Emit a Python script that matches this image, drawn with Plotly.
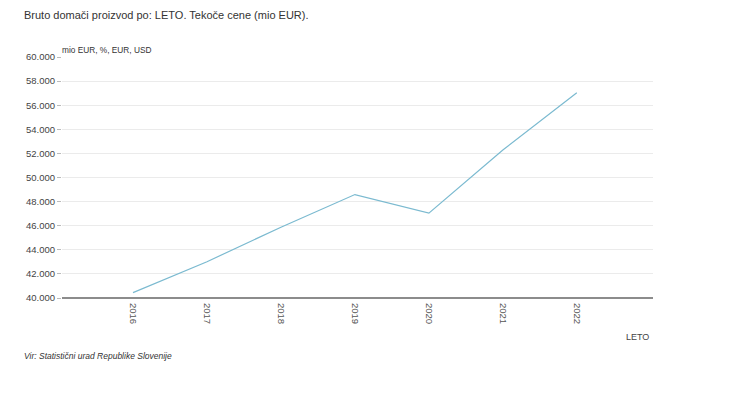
import plotly.graph_objects as go

years = [2016, 2017, 2018, 2019, 2020, 2021, 2022]
gdp = [40443, 43011, 45876, 48583, 47045, 52279, 57038]
y_ticks = [40000, 42000, 44000, 46000, 48000, 50000, 52000, 54000, 56000, 58000, 60000]

title = "Bruto domači proizvod po: LETO. Tekoče cene (mio EUR)."
unit = "mio EUR, %, EUR, USD"
x_title = "LETO"
source = "Vir: Statistični urad Republike Slovenije"

# page has an 8px body margin; figure coordinates = page - 8
OFF = 8
W, H = 750 - OFF, 395 - OFF
L, R, T, B = 62 - OFF, W - (653 - OFF), 57 - OFF, H - (298 - OFF)
PW, PH = W - L - R, H - T - B


def px(x_page):
    return (x_page - OFF - L) / PW


def py(y_page):
    return 1 - (y_page - OFF - T) / PH


fig = go.Figure()
fig.add_trace(go.Scatter(
    x=years, y=gdp, mode="lines",
    line=dict(color="#7bbad0", width=1.2),
    hoverinfo="x+y",
))

font_family = "Liberation Sans, Arial, sans-serif"

fig.update_layout(
    width=W, height=H,
    margin=dict(l=L, r=R, t=T, b=B, pad=0),
    paper_bgcolor="white", plot_bgcolor="white",
    separators=",.",
    showlegend=False,
    font=dict(family=font_family, size=9.5, color="#333333"),
    xaxis=dict(
        range=[2015.04, 2023.03],
        tickmode="array", tickvals=years, ticktext=[str(y) for y in years],
        tickangle=90,
        showgrid=False, zeroline=False,
        showline=False,
        ticks="",
        ticklabelstandoff=4,
        tickfont=dict(size=9.5, color="#555555"),
    ),
    yaxis=dict(
        range=[40000, 60000],
        tickmode="array", tickvals=y_ticks,
        tickformat=",d",
        showgrid=True, gridcolor="#ebebeb", gridwidth=1,
        zeroline=False, showline=False,
        ticks="outside", ticklen=4, tickcolor="#bbbbbb",
        tickfont=dict(size=9.5, color="#444444"),
    ),
    annotations=[
        dict(text=title, xref="paper", yref="paper", x=px(22), y=py(15),
             xanchor="left", yanchor="middle", showarrow=False,
             font=dict(size=11, color="#333333", family=font_family)),
        dict(text=unit, xref="paper", yref="paper", x=px(60), y=py(50),
             xanchor="left", yanchor="middle", showarrow=False,
             font=dict(size=8.3, color="#333333", family=font_family)),
        dict(text=x_title, xref="paper", yref="paper", x=px(651), y=py(337),
             xanchor="right", yanchor="middle", showarrow=False,
             font=dict(size=9, color="#444444", family=font_family)),
        dict(text="<i>" + source + "</i>", xref="paper", yref="paper", x=px(22), y=py(356),
             xanchor="left", yanchor="middle", showarrow=False,
             font=dict(size=8.5, color="#333333", family=font_family)),
    ],
    shapes=[
        dict(type="line", xref="paper", yref="paper", x0=0, x1=1, y0=0, y1=0,
             line=dict(color="#666666", width=1.5)),
    ],
)

fig.write_html("out.html")
